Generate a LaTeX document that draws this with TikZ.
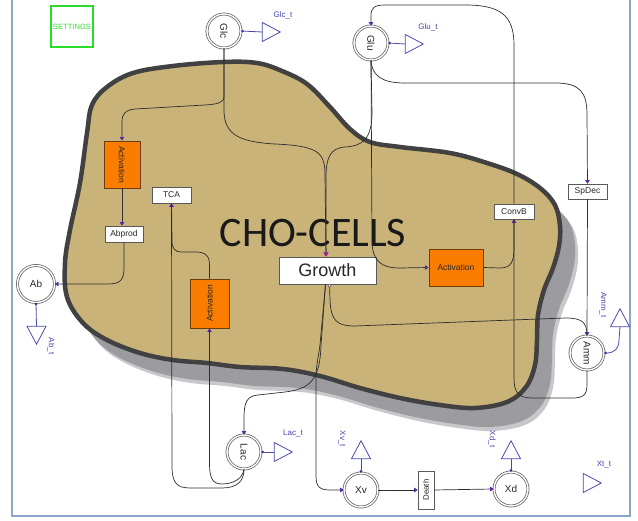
\documentclass[tikz,border=0pt]{standalone}
\usepackage{fontspec}
\setmainfont{Liberation Sans}
\newfontfamily\calibri{Carlito}
\usetikzlibrary{shapes.geometric,arrows.meta}
\definecolor{framecol}{RGB}{140,165,200}
\definecolor{blobfill}{RGB}{201,179,120}
\definecolor{blobline}{RGB}{65,65,65}
\definecolor{shadowcol}{RGB}{155,155,160}
\definecolor{linecol}{RGB}{45,45,45}
\definecolor{tricol}{RGB}{75,75,175}
\definecolor{labcol}{RGB}{70,70,175}
\definecolor{mypurple}{RGB}{85,40,165}
\definecolor{mymagenta}{RGB}{165,30,150}
\definecolor{myorange}{RGB}{250,125,0}
\definecolor{orangeborder}{RGB}{110,60,20}
\definecolor{ringcol}{RGB}{90,90,90}
\definecolor{txtcol}{RGB}{40,40,40}
\definecolor{setgreen}{RGB}{40,220,40}
\begin{document}
\begin{tikzpicture}[x=1pt,y=-1pt,
  stock/.style={circle, draw=ringcol, double=white, double distance=1.4pt, line width=0.7pt, fill=white, minimum size=34pt, inner sep=0pt, text=txtcol, font=\fontsize{10}{11}\selectfont},
  orangebox/.style={rectangle, draw=orangeborder, fill=myorange, line width=0.8pt, inner sep=0pt, text=txtcol, font=\fontsize{8.5}{9}\selectfont},
  whitebox/.style={rectangle, draw=black!65, fill=white, line width=0.6pt, inner sep=0pt, minimum height=15pt, text=txtcol, font=\fontsize{8.5}{9}\selectfont},
  tri/.style={isosceles triangle, isosceles triangle stretches, draw=tricol, line width=0.8pt, minimum width=19pt, minimum height=18pt, inner sep=0pt, outer sep=0pt},
  lab/.style={text=labcol, font=\fontsize{8}{9}\selectfont, inner sep=0pt},
  conn/.style={draw=linecol, line width=0.7pt},
  tconn/.style={draw=tricol, line width=0.8pt, {Circle[length=2.5pt,color=mypurple]}-},
  arr/.style={-{Triangle[width=4.5pt,length=3.5pt,color=mypurple]}},
  magarr/.style={-{Triangle[width=5pt,length=4pt,color=mymagenta]}}
]
\useasboundingbox (0,0) rectangle (638,521);
% frame
\draw[framecol, line width=1.2pt] (12,-3) -- (12,516) -- (630,516) -- (630,-3);
% shadow
\fill[shadowcol!55, shift={(18,23)}] plot[smooth cycle, tension=0.6] coordinates {(107,87) (133,73) (173,66) (223,62) (257,63) (282,71) (307,84) (330,107) (350,129) (370,142) (400,147) (450,153) (487,163) (517,174) (540,188) (555,205) (560,226) (559,246) (553,268) (544,290) (538,315) (537,340) (535,365) (526,387) (507,402) (475,408) (440,405) (400,398) (360,388) (320,376) (283,369) (240,367) (207,363) (173,360) (140,353) (107,340) (83,323) (67,297) (65,263) (70,230) (80,183) (87,133) (92,105)};
\fill[shadowcol, shift={(15,19)}] plot[smooth cycle, tension=0.6] coordinates {(107,87) (133,73) (173,66) (223,62) (257,63) (282,71) (307,84) (330,107) (350,129) (370,142) (400,147) (450,153) (487,163) (517,174) (540,188) (555,205) (560,226) (559,246) (553,268) (544,290) (538,315) (537,340) (535,365) (526,387) (507,402) (475,408) (440,405) (400,398) (360,388) (320,376) (283,369) (240,367) (207,363) (173,360) (140,353) (107,340) (83,323) (67,297) (65,263) (70,230) (80,183) (87,133) (92,105)};
% blob
\draw[blobline, line width=4.5pt, fill=blobfill] plot[smooth cycle, tension=0.6] coordinates {(107,87) (133,73) (173,66) (223,62) (257,63) (282,71) (307,84) (330,107) (350,129) (370,142) (400,147) (450,153) (487,163) (517,174) (540,188) (555,205) (560,226) (559,246) (553,268) (544,290) (538,315) (537,340) (535,365) (526,387) (507,402) (475,408) (440,405) (400,398) (360,388) (320,376) (283,369) (240,367) (207,363) (173,360) (140,353) (107,340) (83,323) (67,297) (65,263) (70,230) (80,183) (87,133) (92,105)};
\node[inner sep=0pt, text=black!90, font=\calibri\fontsize{42}{44}\selectfont] (cho) at (313,233) {CHO-CELLS};

% settings
\node[draw=setgreen, line width=1.2pt, minimum width=42pt, minimum height=41pt, inner sep=0pt, text=setgreen, font=\fontsize{7.6}{8}\selectfont] (settings) at (72,26.5) {SETTINGS};

% stocks
\node[stock] (Glc) at (224,31) {\rotatebox{-90}{Glc}};
\node[stock] (Glu) at (371,43) {\rotatebox{-90}{Glu}};
\node[stock, minimum size=37pt] (Ab) at (36,284) {Ab};
\node[stock] (Lac) at (244,452) {\rotatebox{-90}{Lac}};
\node[stock] (Xv) at (361,490) {Xv};
\node[stock] (Xd) at (511,489) {Xd};
\node[stock] (Amm) at (587,353) {\rotatebox{-90}{Amm}};

% boxes
\node[orangebox, minimum width=36pt, minimum height=47pt] (Act1) at (122,164.5) {\rotatebox{-90}{Activation}};
\node[orangebox, minimum width=39pt, minimum height=49pt] (Act2) at (209.5,303.5) {\rotatebox{90}{Activation}};
\node[orangebox, minimum width=54pt, minimum height=37pt] (Act3) at (456,267.5) {Activation};
\node[whitebox, minimum width=39pt, minimum height=16pt] (TCA) at (171.5,195) {TCA};
\node[whitebox, minimum width=38pt, minimum height=16pt] (Abprod) at (124,234) {Abprod};
\node[whitebox, minimum width=40pt] (ConvB) at (514,211.5) {ConvB};
\node[whitebox, minimum width=39pt] (SpDec) at (587.5,191.5) {SpDec};
\node[whitebox, minimum width=97pt, minimum height=27pt, line width=0.8pt, text=black!85, font=\fontsize{18}{20}\selectfont] (Growth) at (327.5,270.5) {Growth};
\node[whitebox, minimum width=16pt, minimum height=38pt, font=\fontsize{8}{9}\selectfont] (Death) at (426,490) {\rotatebox{90}{Death}};

% triangles
\node[tri] (Glct) at (268,32) {};
\node[tri] (Glut) at (411,44) {};
\node[tri] (Lact) at (280,452) {};
\node[tri, rotate=-90] (Abt) at (36.5,332) {};
\node[tri, rotate=90] (Xvt) at (361,453) {};
\node[tri, rotate=90] (Xdt) at (511,453) {};
\node[tri] (Xtt) at (589,483) {};
\node[tri, rotate=90] (Ammt) at (620,321) {};

% labels
\node[lab] at (283,15) {Glc\_t};
\node[lab] at (428,27) {Glu\_t};
\node[lab] at (293,434) {Lac\_t};
\node[lab] at (604,465) {Xt\_t};
\node[lab, rotate=-90] at (51,346) {Ab\_t};
\node[lab, rotate=-90] at (342,439) {Xv\_t};
\node[lab, rotate=-90] at (492,439) {Xd\_t};
\node[lab, rotate=-90] at (603,305) {Amm\_t};

% connectors
\draw[conn, arr] (Glc.south) -- (224,96) .. controls (224,103) and (218,104) .. (205,105) -- (135,109) .. controls (125,110) and (122,114) .. (122,122) -- (Act1.north);
\draw[conn, magarr] (Glc.south) -- (224,112) .. controls (225,135) and (240,142) .. (275,144) .. controls (318,146) and (325,152) .. (325,175) -- ([xshift=-1.5pt]Growth.north);
\draw[conn, magarr] (Glu.south) -- (372,112) .. controls (372,140) and (362,146) .. (345,147) .. controls (330,148) and (326,158) .. (326,178) -- ([xshift=-1.5pt]Growth.north);
\draw[conn, arr] (Glu.south) -- (372,240) .. controls (372,262) and (382,268) .. (400,268) -- (Act3.west);
\draw[conn, arr] (Glu.south) .. controls (372,76) and (382,83) .. (405,83) -- (555,83) .. controls (580,83) and (587,92) .. (587,115) -- (SpDec.north);
\draw[conn, arr] (ConvB.north) -- (514,45) .. controls (514,15) and (500,5) .. (465,5) -- (385,5) .. controls (374,5) and (371,8) .. (371,16) -- (Glu.north);
\draw[conn, arr] (Amm.south) -- (587,385) .. controls (587,396) and (582,398) .. (572,398) -- (532,398) .. controls (518,398) and (514,392) .. (514,378) -- (ConvB.south);
\draw[conn] (Act3.east) -- (500,268) .. controls (511,268) and (514,262) .. (514,248) -- (ConvB.south);
\draw[conn, arr] (SpDec.south) -- (Amm.north);
\draw[conn, arr, {Square[length=3pt,width=3pt,fill=white,color=black!60]}-] ([xshift=2pt]Growth.south) -- (330,300) .. controls (331,320) and (336,326) .. (355,326) -- (565,318) .. controls (582,318) and (587,322) .. (Amm.north);
\draw[conn, arr] ([xshift=-2pt]Growth.south) -- (321,345) .. controls (320,380) and (310,389) .. (285,392) -- (258,395) .. controls (247,396) and (244,402) .. (244,418) -- (Lac.north);
\draw[conn, arr] ([xshift=-2pt]Growth.south) -- (320,345) .. controls (318,360) and (316,365) .. (316,380) -- (316,476) .. controls (316,487) and (320,490) .. (330,490) -- (Xv.west);
\draw[conn, arr] (Lac.south) .. controls (244,482) and (236,488) .. (222,488) -- (190,488) .. controls (176,488) and (172,482) .. (172,466) -- (TCA.south);
\draw[conn, arr] (Lac.south) .. controls (243,478) and (234,484) .. (222,484) .. controls (212,484) and (209.5,478) .. (209.5,462) -- (Act2.south);
\draw[conn] (Act2.north) -- (209.5,265) .. controls (209.5,255) and (205,252) .. (195,252) -- (182,252) .. controls (174,252) and (172,248) .. (172,240) -- (TCA.south);
\draw[conn, arr] (Act1.south) -- (Act1.south |- Abprod.north);
\draw[conn, arr] (Abprod.south) -- (124,268) .. controls (124,280) and (120,284) .. (108,284) -- (Ab.east);
\draw[conn, arr] (Xv.east) -- (Death.west);
\draw[conn, arr] (Death.east) -- (Xd.west);
% stock to triangles
\draw[tconn] (Glc.east) -- (Glct.west);
\draw[tconn] (Glu.east) -- (Glut.west);
\draw[tconn] (Lac.east) -- (Lact.west);
\draw[tconn] (Ab.south) -- (Abt.west);
\draw[tconn] (Xv.north) -- (Xvt.west);
\draw[tconn] (Xd.north) -- (Xdt.west);
\draw[tconn] (Amm.east) .. controls (614,353) and (619,349) .. (619,340) -- (Ammt.west);
\end{tikzpicture}
\end{document}
